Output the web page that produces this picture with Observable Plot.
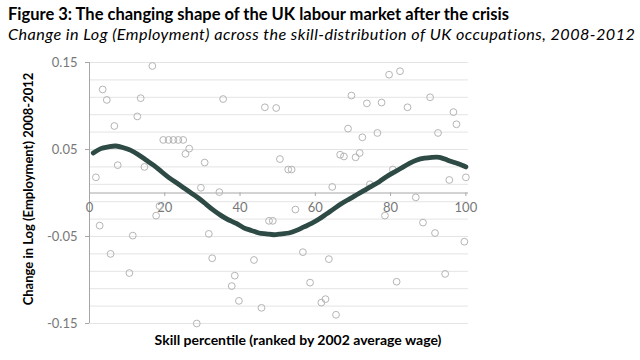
<!DOCTYPE html>
<html><head><meta charset="utf-8">
<script src="https://cdn.jsdelivr.net/npm/d3@7"></script>
<script src="https://cdn.jsdelivr.net/npm/@observablehq/plot@0.6"></script>
<style>
body{margin:0;background:#fff;font-family:Lato,"Open Sans",sans-serif;}
#t{position:absolute;left:8px;top:4px;font-weight:bold;font-size:16.5px;color:#000;white-space:nowrap;}
#s{position:absolute;left:8px;top:24px;font-style:italic;font-size:16.2px;letter-spacing:0.45px;color:#000;white-space:nowrap;}
#c{position:absolute;left:0;top:50px;}
</style></head><body>
<div id="t">Figure 3: The changing shape of the UK labour market after the crisis</div>
<div id="s">Change in Log (Employment) across the skill-distribution of UK occupations, 2008-2012</div>
<div id="c"></div>
<script>
const occX = [16.7,3.5,4.6,13.6,12.7,6.6,19.6,21.0,22.3,23.6,24.9,26.5,25.5,30.6,7.5,14.6,1.7,29.6,35.5,46.6,49.6,50.6,52.8,53.7,64.5,34.5,79.6,82.5,69.6,73.7,77.6,84.5,90.5,96.7,97.5,92.6,68.7,72.5,76.5,66.6,67.6,70.7,71.8,80.6,74.5,95.6,100,18.6,17.7,2.7,11.5,31.7,5.6,32.6,10.6,28.5,54.7,47.7,48.7,56.7,43.7,63.6,38.6,37.8,58.6,39.7,45.7,62.7,61.6,65.5,86.7,78.5,88.6,91.8,99.6,81.6,94.5];
const occY = [0.146,0.119,0.107,0.109,0.088,0.077,0.061,0.061,0.061,0.061,0.061,0.051,0.045,0.035,0.032,0.030,0.018,0.006,0.108,0.0985,0.0977,0.039,0.027,0.027,0.007,0.001,0.136,0.140,0.112,0.103,0.104,0.0985,0.110,0.093,0.079,0.069,0.074,0.064,0.069,0.044,0.042,0.041,0.046,0.027,0.010,0.015,0.018,-0.015,-0.026,-0.0375,-0.049,-0.047,-0.070,-0.075,-0.092,-0.150,-0.019,-0.032,-0.032,-0.068,-0.077,-0.076,-0.095,-0.107,-0.103,-0.124,-0.132,-0.122,-0.126,-0.140,-0.005,-0.026,-0.034,-0.046,-0.056,-0.102,-0.093];
const fitX = [1,3,5,7,9,11,13,15,17,19,21,23,25,27,29,31,33,35,37,39,41,43,45,47,49,51,53,55,57,59,61,63,65,67,69,71,73,75,77,79,81,83,85,87,89,91,93,95,97,99,100];
const fitY = [0.046,0.051,0.053,0.054,0.052,0.049,0.044,0.038,0.032,0.025,0.018,0.012,0.006,0.000,-0.006,-0.013,-0.020,-0.026,-0.031,-0.035,-0.040,-0.043,-0.046,-0.047,-0.048,-0.047,-0.046,-0.043,-0.039,-0.035,-0.030,-0.024,-0.018,-0.012,-0.007,-0.002,0.003,0.008,0.013,0.019,0.024,0.029,0.034,0.038,0.040,0.041,0.041,0.038,0.035,0.032,0.030];
const xTicks = [0,20,40,60,80,100];
const yTicks = [0.15,0.05,-0.05,-0.15];
const yGrid = [0.15,0.13,0.11,0.09,0.07,0.05,0.03,0.01,-0.01,-0.03,-0.05,-0.07,-0.09,-0.11,-0.13,-0.15];
const xTitle = "Skill percentile (ranked by 2002 average wage)";
const yTitle = "Change in Log (Employment) 2008-2012";

const pts = occX.map((x,i)=>({x, y: occY[i]}));
const fit = fitX.map((x,i)=>({x, y: fitY[i]}));
const fmt = d => String(d);

const chart = Plot.plot({
  width: 640, height: 310,
  marginTop: 12, marginBottom: 37, marginLeft: 89, marginRight: 172,
  style: {fontFamily: "Lato, sans-serif", fontSize: "13px", color: "#595959", overflow: "visible"},
  x: {domain: [0, 100.7], axis: null},
  y: {domain: [-0.15, 0.15], axis: null},
  marks: [
    Plot.ruleY(yGrid, {stroke: "#e4e4e4", strokeWidth: 1}),
    Plot.ruleX([0], {stroke: "#a6a6a6"}),
    Plot.ruleY([0], {stroke: "#a6a6a6"}),
    Plot.axisY({ticks: yTicks, tickFormat: fmt, tickSize: 4, tickPadding: 8, stroke: "#a6a6a6", fill: "#777", label: null, fontSize: 13}),
    Plot.ruleX(xTicks, {x: d => d, y1: 0, y2: -0.004, stroke: "#a6a6a6"}),
    Plot.text(xTicks, {x: d => d, y: 0, text: fmt, dy: 15, fill: "#777", fontSize: 13}),
    Plot.dot(pts, {x: "x", y: "y", r: 3.4, stroke: "#b5b5b5", strokeWidth: 1, fill: "none"}),
    Plot.line(fit, {x: "x", y: "y", stroke: "#2e4a44", strokeWidth: 4.8, curve: "natural"}),
    Plot.text([xTitle], {frameAnchor: "bottom", text: d => d, textAnchor: "middle", dx: 19, dy: 21, fill: "#000", fontWeight: "bold", fontSize: 14}),
    Plot.text([yTitle], {frameAnchor: "left", text: d => d, textAnchor: "middle", dx: -61, dy: -4, rotate: -90, fill: "#000", fontWeight: "bold", fontSize: 13})
  ]
});
document.getElementById("c").appendChild(chart);
</script>
</body></html>
